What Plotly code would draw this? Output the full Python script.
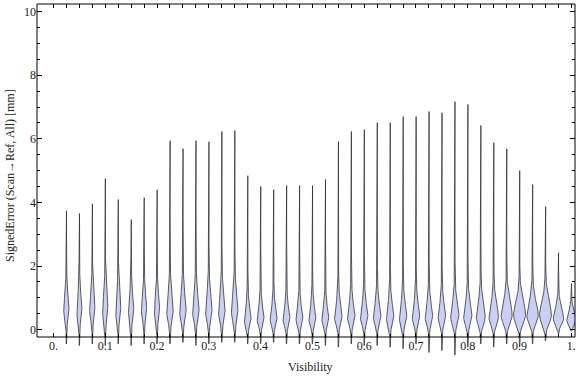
import numpy as np
import plotly.graph_objects as go

# ---------------- data ----------------
visibility = [round(0.025 * k, 3) for k in range(1, 41)]

err_max = [3.74, 3.65, 3.96, 4.75, 4.09, 3.46, 4.15, 4.40, 5.94, 5.69,
           5.94, 5.91, 6.23, 6.26, 4.84, 4.50, 4.40, 4.53, 4.53, 4.53,
           4.72, 5.91, 6.23, 6.29, 6.51, 6.51, 6.70, 6.70, 6.86, 6.82,
           7.17, 7.08, 6.42, 5.88, 5.69, 5.00, 4.56, 3.87, 2.42, 1.45]

err_min = [-0.45, -0.50, -0.45, -0.50, -0.45, -0.50, -0.45, -0.45, -0.45, -0.40,
           -0.50, -0.45, -0.40, -0.40, -0.45, -0.45, -0.40, -0.45, -0.45, -0.45,
           -0.50, -0.55, -0.45, -0.50, -0.50, -0.55, -0.60, -0.45, -0.72, -0.66,
           -0.80, -0.55, -0.45, -0.55, -0.45, -0.55, -0.45, -0.35, -0.13, -0.05]

err_mode = [0.60] * 8 + [0.55] * 6 + [0.32] * 7 + [0.38] * 9 + \
           [0.40] * 4 + [0.45] * 4 + [0.35, 0.30]

# relative peak density (drawn half-width, in pixels)
peak_density = [2.5] * 8 + [3.1] * 6 + [3.3] * 7 + [3.6] * 9 + \
               [4.0, 4.0, 4.3, 4.6, 5.4, 5.9, 5.6, 5.8, 5.0, 4.5]

spread_low = [0.28] * 8 + [0.28] * 6 + [0.20] * 7 + [0.22] * 9 + \
             [0.24] * 4 + [0.25] * 4 + [0.18, 0.15]
spread_up = [0.40] * 8 + [0.45] * 6 + [0.30] * 7 + [0.34] * 9 + \
            [0.36] * 4 + [0.38] * 4 + [0.28, 0.22]
spread_tail = [0.9] * 8 + [1.0] * 6 + [0.8] * 7 + [0.85] * 9 + \
              [0.8] * 4 + [0.7] * 4 + [0.5, 0.4]

x_tickvals = [0.0, 0.1, 0.2, 0.3, 0.4, 0.5, 0.6, 0.7, 0.8, 0.9, 1.0]
x_ticktext = ["0.", "0.1", "0.2", "0.3", "0.4", "0.5", "0.6", "0.7", "0.8", "0.9", "1."]
y_tickvals = [0, 2, 4, 6, 8, 10]
y_ticktext = ["0", "2", "4", "6", "8", "10"]
y_minor = [0.5, 1, 1.5, 2.5, 3, 3.5, 4.5, 5, 5.5, 6.5, 7, 7.5, 8.5, 9, 9.5]
top_ticks = [round(0.025 * k, 3) for k in range(0, 41)]

x_title = "Visibility"
y_title = "SignedError (Scan\u2192Ref, All) [mm]"

# ---------------- style ----------------
PX = 1.0 / 518.0           # x data units per pixel
TAIL_W = 0.25
EPS = 0.15
FILL = "#c9d0f4"
EDGE = "rgba(45,45,45,0.85)"
FONT = "Liberation Serif"
X_RANGE = [-0.0317, 1.007]
Y_RANGE = [-0.86, 10.24]

fig = go.Figure()

for c, lo, hi, m, pk, sl, su, st in zip(visibility, err_min, err_max, err_mode,
                                        peak_density, spread_low, spread_up, spread_tail):
    y = np.linspace(lo, hi, 400)
    d = y - m
    up = (1 - TAIL_W) * np.exp(-0.5 * (d / su) ** 2) + TAIL_W * np.exp(-0.5 * (d / st) ** 2)
    low = np.exp(-0.5 * (d / sl) ** 2)
    prof = np.where(d >= 0, up, low)
    hw = (pk * prof + EPS) * PX
    xs = np.concatenate([c + hw, (c - hw)[::-1]])
    ys = np.concatenate([y, y[::-1]])
    fig.add_trace(go.Scatter(x=xs, y=ys, mode="lines", fill="toself",
                             fillcolor=FILL, line=dict(color=EDGE, width=0.9),
                             hoverinfo="skip", showlegend=False))

# dummy trace so the frame (top / right) axes are drawn
fig.add_trace(go.Scatter(x=[None], y=[None], xaxis="x2", yaxis="y2",
                         showlegend=False, hoverinfo="skip"))

H_PLOT = 353.0
W_PLOT = 538.0
X_AXIS_POS = 20.0 / H_PLOT
tick_font = dict(family=FONT, size=12, color="#222")

fig.update_layout(
    width=576, height=377,
    margin=dict(l=37, r=1, t=4, b=20),
    paper_bgcolor="white", plot_bgcolor="white",
    font=tick_font,
    xaxis=dict(range=X_RANGE, anchor="free", position=X_AXIS_POS, automargin=False,
               showgrid=False, zeroline=False, showline=False,
               tickvals=x_tickvals, ticktext=x_ticktext,
               ticks="inside", ticklen=4, tickwidth=1, tickcolor="black",
               minor=dict(ticks="inside", ticklen=3, tickwidth=1, tickcolor="black",
                          tickvals=top_ticks),
               tickfont=tick_font),
    xaxis2=dict(range=X_RANGE, overlaying="x", side="top", anchor="y", automargin=False,
                showgrid=False, zeroline=False, showline=False, showticklabels=False,
                tickvals=top_ticks, ticks="inside", ticklen=4, tickwidth=1,
                tickcolor="black"),
    yaxis=dict(range=Y_RANGE, automargin=False, showgrid=False, zeroline=False,
               showline=False, tickvals=y_tickvals, ticktext=y_ticktext,
               ticks="inside", ticklen=5, tickwidth=1, tickcolor="black",
               minor=dict(ticks="inside", ticklen=3, tickwidth=1, tickcolor="black",
                          tickvals=y_minor),
               tickfont=tick_font),
    yaxis2=dict(range=Y_RANGE, overlaying="y", side="right", anchor="free", position=1.0,
                automargin=False, showgrid=False, zeroline=False, showline=False,
                showticklabels=False, tickvals=y_tickvals,
                ticks="inside", ticklen=5, tickwidth=1, tickcolor="black",
                minor=dict(ticks="inside", ticklen=3, tickwidth=1, tickcolor="black",
                           tickvals=y_minor)),
    shapes=[dict(type="rect", xref="paper", yref="paper",
                 x0=0, x1=1, y0=X_AXIS_POS, y1=1,
                 line=dict(color="black", width=1), fillcolor="rgba(0,0,0,0)",
                 layer="above")],
    annotations=[
        dict(text=x_title, xref="paper", yref="paper",
             x=(310 - 37) / W_PLOT, y=(357 - 367) / H_PLOT,
             xanchor="center", yanchor="middle", showarrow=False, font=tick_font),
        dict(text=y_title, xref="paper", yref="paper",
             x=(10 - 37) / W_PLOT, y=(357 - 176) / H_PLOT, textangle=-90,
             xanchor="center", yanchor="middle", showarrow=False, font=tick_font),
    ],
)

fig.write_html("out.html", config={"displayModeBar": False},
               post_script="document.body.style.margin='0';document.body.style.padding='0';")
